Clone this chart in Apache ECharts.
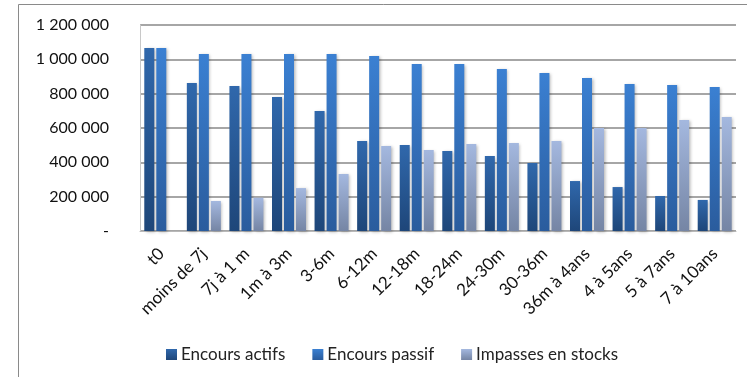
<!DOCTYPE html>
<html>
<head>
<meta charset="utf-8">
<script src="https://cdn.jsdelivr.net/npm/echarts@6/dist/echarts.min.js"></script>
<style>
  html, body { margin: 0; padding: 0; background: #ffffff; }
  #chart { width: 747px; height: 377px; }
</style>
</head>
<body>
<div id="chart"></div>
<script>
// Échéancier des encours et impasses en stocks
const categories = ['t0', 'moins de 7j', '7j à 1 m', '1m à 3m', '3-6m', '6-12m', '12-18m',
  '18-24m', '24-30m', '30-36m', '36m à 4ans', '4 à 5ans', '5 à 7ans', '7 à 10ans'];
const encoursActifs = [1066000, 862000, 845000, 780000, 699000, 524000, 501000,
  466000, 437000, 396000, 291000, 256000, 204000, 181000];
const encoursPassif = [1066000, 1031000, 1031000, 1031000, 1031000, 1019000, 973000,
  973000, 943000, 920000, 891000, 856000, 850000, 839000];
const impasses = [0, 175000, 194000, 250000, 332000, 495000, 472000,
  507000, 513000, 524000, 600000, 600000, 646000, 664000];
const seriesNames = ['Encours actifs', 'Encours passif', 'Impasses en stocks'];

const FONT = 'Lato, "Open Sans", sans-serif';

function grad(top, bottom) {
  return new echarts.graphic.LinearGradient(0, 0, 0, 1, [
    { offset: 0, color: top },
    { offset: 1, color: bottom }
  ]);
}

function fmt(v) {
  if (v === 0) return '-';
  return String(v).replace(/\B(?=(\d{3})+(?!\d))/g, ' ');
}

const barStyle = (top, bottom) => ({
  color: grad(top, bottom),
  shadowColor: 'rgba(0,0,0,0.28)',
  shadowBlur: 3,
  shadowOffsetX: 1.5,
  shadowOffsetY: 1
});

const chart = echarts.init(document.getElementById('chart'), null, { renderer: 'canvas' });
chart.setOption({
  animation: false,
  backgroundColor: '#ffffff',
  textStyle: { fontFamily: FONT },
  graphic: [{
    type: 'rect',
    shape: { x: 18.5, y: 4.5, width: 800, height: 420 },
    style: { fill: 'none', stroke: '#8a8a8a', lineWidth: 1 },
    silent: true, z: -10
  }],
  grid: { left: 140, right: 11, top: 25, bottom: 146, containLabel: false },
  legend: {
    left: 161, top: 341,
    itemWidth: 11, itemHeight: 11, itemGap: 27,
    icon: 'rect',
    textStyle: { fontFamily: FONT, fontSize: 17, color: '#222', padding: [0, 0, 0, -1] },
    data: seriesNames
  },
  xAxis: {
    type: 'category',
    data: categories,
    axisLine: { show: true, lineStyle: { color: '#b8b8b8', width: 1 } },
    axisTick: { show: false },
    axisLabel: { rotate: 45, margin: 20, fontSize: 17, color: '#111', fontFamily: FONT, interval: 0 }
  },
  yAxis: {
    type: 'value',
    min: 0, max: 1200000, interval: 200000,
    axisLine: { show: true, lineStyle: { color: '#c8c8c8' } },
    axisTick: { show: false },
    axisLabel: { margin: 31, fontSize: 16, color: '#111', fontFamily: FONT, formatter: fmt },
    splitLine: { show: true, lineStyle: { color: '#888888', width: 1.5 } }
  },
  series: [
    { name: seriesNames[0], type: 'bar', data: encoursActifs, barWidth: 10, barGap: '20%',
      itemStyle: barStyle('#3068ac', '#1e4679') },
    { name: seriesNames[1], type: 'bar', data: encoursPassif, barWidth: 10, barGap: '20%',
      itemStyle: barStyle('#3b80d2', '#2a5c9d') },
    { name: seriesNames[2], type: 'bar', data: impasses, barWidth: 10, barGap: '20%',
      itemStyle: barStyle('#a4b8df', '#7585a4') }
  ]
});
</script>
</body>
</html>
